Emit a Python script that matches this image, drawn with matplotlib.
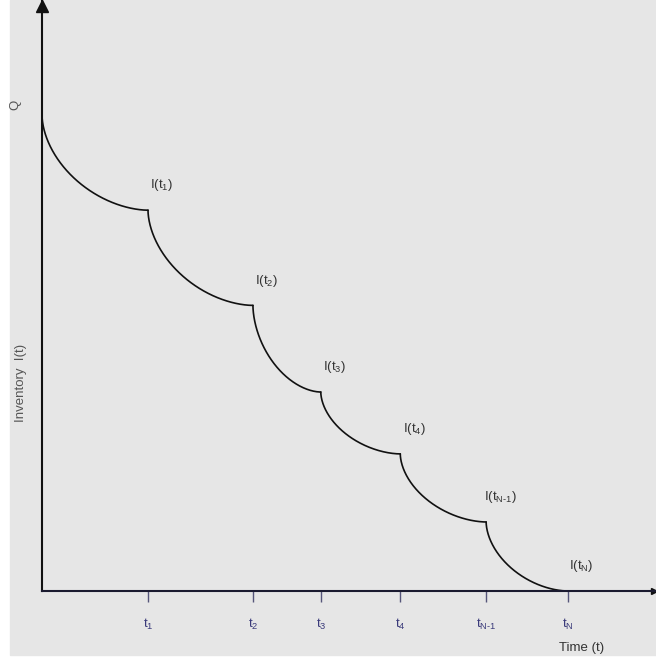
import numpy as np
import matplotlib.pyplot as plt
from matplotlib.patches import Rectangle

plt.rcParams['font.family'] = ['Liberation Sans', 'DejaVu Sans']
plt.rcParams['mathtext.fontset'] = 'custom'
plt.rcParams['mathtext.rm'] = 'Liberation Sans'
plt.rcParams['mathtext.it'] = 'Liberation Sans'

# reorder points (time) and inventory levels at each point
t_pts = [0.0, 1.0, 1.99, 2.63, 3.38, 4.19, 4.96]
inv = [100.0, 80.0, 60.0, 41.8, 28.8, 14.5, 0.0]
t_labels = ['t$_1$', 't$_2$', 't$_3$', 't$_4$', r't$_{\mathrm{N}\text{-}1}$', r't$_\mathrm{N}$']
i_labels = ['I(t$_1$)', 'I(t$_2$)', 'I(t$_3$)', 'I(t$_4$)',
            r'I(t$_{\mathrm{N}\text{-}1}$)', r'I(t$_\mathrm{N}$)']

W, H = 656, 659
fig = plt.figure(figsize=(W / 100, H / 100), dpi=100, facecolor='white')
fig.patches.append(Rectangle((10 / W, 4 / H), 1 - 10 / W, 1 - 4 / H,
                             transform=fig.transFigure, color='#e6e6e6', zorder=-5))

# origin of axes at pixel (42, 591)
ax = fig.add_axes([42 / W, (H - 591) / H, (W - 42) / W, 591 / H])
ax.set_facecolor('none')
ax.set_xlim(0, (W - 42) / 106.0)
ax.set_ylim(0, 591 / 4.76)

# each period: rounded drop (superellipse quarter) from previous level to next
n = 1.8
for k in range(1, len(t_pts)):
    th = np.linspace(0, np.pi / 2, 200)
    a = t_pts[k] - t_pts[k - 1]
    d = inv[k - 1] - inv[k]
    xs = t_pts[k] - a * np.cos(th) ** (2 / n)
    ys = inv[k - 1] - d * np.sin(th) ** (2 / n)
    ax.plot(xs, ys, color='#111111', lw=1.2, solid_capstyle='round')

for s in ['top', 'right']:
    ax.spines[s].set_visible(False)
ax.spines['left'].set_color('#111111')
ax.spines['left'].set_linewidth(1.5)
ax.spines['bottom'].set_color('#1b1b30')
ax.spines['bottom'].set_linewidth(1.5)

# arrow heads
ax.plot(0, ax.get_ylim()[1] - 1.2, marker='^', ms=8, color='#111111', clip_on=False)
ax.plot(ax.get_xlim()[1] - 0.02, 0, marker='>', ms=5, color='#111111', clip_on=False)

ax.set_yticks([])
ax.set_xticks(t_pts[1:], t_labels)
ax.tick_params(axis='x', direction='out', length=8, width=1, color='#55557a',
               labelcolor='#3a3a7a', labelsize=9.5, pad=11)

for k in range(1, len(t_pts)):
    ax.text(t_pts[k] + 0.13, inv[k] + 5.2, i_labels[k - 1], fontsize=9.5,
            color='#333333', ha='center', va='center')

fig.text(15 / W, 1 - 105 / H, 'Q', rotation=90, fontsize=9.5, color='#555555',
         ha='center', va='center')
fig.text(21 / W, 1 - 383 / H, 'Inventory  I(t)', rotation=90, fontsize=9.5,
         color='#555555', ha='center', va='center')
fig.text(582 / W, 1 - 648 / H, 'Time (t)', fontsize=9.5, color='#333333',
         ha='center', va='center')

fig.savefig('out.png', dpi=100, facecolor=fig.get_facecolor())
